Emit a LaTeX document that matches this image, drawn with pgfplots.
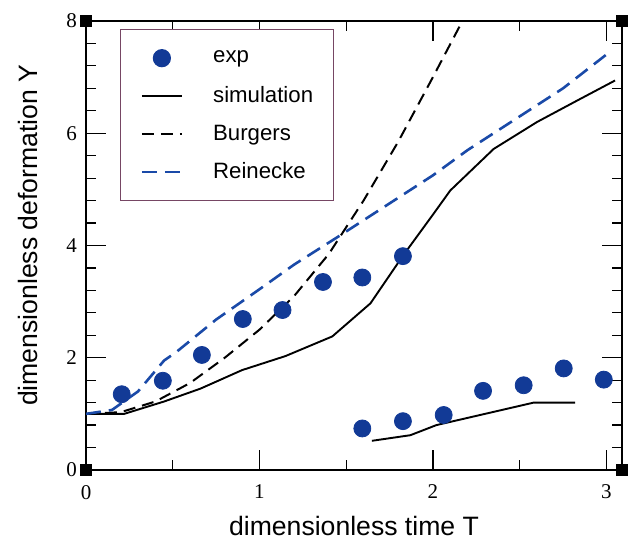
\documentclass[border=0pt]{standalone}
\usepackage{pgfplots}
\pgfplotsset{compat=1.18}
\usepackage{fontspec}
\setmainfont{Liberation Sans}
\newfontfamily\tickfont{Liberation Serif}
\definecolor{dotblue}{RGB}{18,58,150}
\definecolor{lineblue}{RGB}{26,74,168}
\definecolor{legframe}{RGB}{118,70,100}

\pgfplotstableread{
x y
0.206 1.35
0.443 1.59
0.668 2.05
0.904 2.69
1.133 2.85
1.366 3.35
1.593 3.43
1.827 3.81
1.593 0.74
1.827 0.87
2.062 0.98
2.289 1.41
2.523 1.51
2.754 1.81
2.985 1.61
}\expdata

\pgfplotstableread{
x y
0    1.00
0.22 1.00
0.45 1.22
0.66 1.45
0.90 1.78
1.15 2.03
1.42 2.38
1.64 2.97
1.83 3.83
2.00 4.55
2.10 4.98
2.35 5.72
2.60 6.20
2.83 6.58
3.05 6.94
}\simup

\pgfplotstableread{
x y
1.648 0.52
1.87  0.62
2.02  0.80
2.58  1.20
2.82  1.20
}\simlow

\pgfplotstableread{
x y
0    1.00
0.2  1.03
0.4  1.22
0.6  1.55
0.8  2.00
1.0  2.50
1.2  3.10
1.4  3.85
1.6  4.80
1.8  5.85
2.0  7.00
2.17 8.00
}\burgers

\pgfplotstableread{
x y
0    1.00
0.15 1.07
0.30 1.40
0.45 1.95
0.52 2.10
0.75 2.68
1.00 3.22
1.20 3.66
1.45 4.15
1.70 4.65
2.00 5.25
2.20 5.70
2.45 6.20
2.75 6.80
3.02 7.45
}\reinecke

\begin{document}
\begin{tikzpicture}
\begin{axis}[
  name=ax,
  scale only axis,
  width=268pt, height=224.5pt,
  xmin=0, xmax=3.09, ymin=0, ymax=8,
  xtick={0,1,2,3}, ytick={0,2,4,6,8},
  xticklabels={0,1,2,3}, yticklabels={0,2,4,6,8},
  minor x tick num=1, minor y tick num=4,
  tick align=inside,
  major tick length=10pt, minor tick length=5pt,
  every tick/.style={black, line width=0.6pt},
  axis line style={line width=0.6pt},
  every tick label/.append style={font=\tickfont\fontsize{10.5}{12}\selectfont},
  xticklabel style={yshift=-4pt},
  yticklabel style={xshift=-1pt},
  label style={font=\fontsize{13.3}{15}\selectfont},
  xlabel={dimensionless time T},
  ylabel={dimensionless deformation Y},
  xlabel style={at={(rel axis cs:0.5,-0.1448)}, anchor=base},
  ylabel style={at={(rel axis cs:-0.0914,0.523)}, anchor=base},
  legend style={at={(rel axis cs:0.0634,0.982)}, anchor=north west,
    draw=legframe, line width=0.6pt,
    font=\fontsize{11.1}{13}\selectfont,
    inner xsep=10pt, inner ysep=4.75pt,
    row sep=0pt,
    nodes={inner sep=0pt, minimum height=19pt},
    cells={anchor=west}},
  legend image code/.code={%
    \draw[mark repeat=2, mark phase=2, #1] plot coordinates {(0pt,0pt) (10pt,0pt) (20pt,0pt)};
    \path (35pt,0pt);},
]
\addplot[only marks, mark=*, mark size=4.25pt, dotblue, mark options={fill=dotblue, draw=dotblue}] table {\expdata};
\addlegendentry{exp}
\addplot[black, line width=0.95pt] table {\simup};
\addlegendentry{simulation}
\addplot[black, line width=1pt, dash pattern=on 6pt off 3.5pt] table {\burgers};
\addlegendentry{Burgers}
\addplot[lineblue, line width=1.3pt, dash pattern=on 7.5pt off 4pt] table {\reinecke};
\addlegendentry{Reinecke}
\addplot[black, line width=0.95pt, forget plot] table {\simlow};
\end{axis}
\foreach \c in {south west, south east, north west, north east}{
  \fill[black] ([shift={(-3pt,-3pt)}]ax.\c) rectangle ++(6pt,6pt);
}
\pgfresetboundingbox
\path ([shift={(-43pt,-34pt)}]ax.south west) rectangle ([shift={(6pt,10.5pt)}]ax.north east);
\end{tikzpicture}
\end{document}
